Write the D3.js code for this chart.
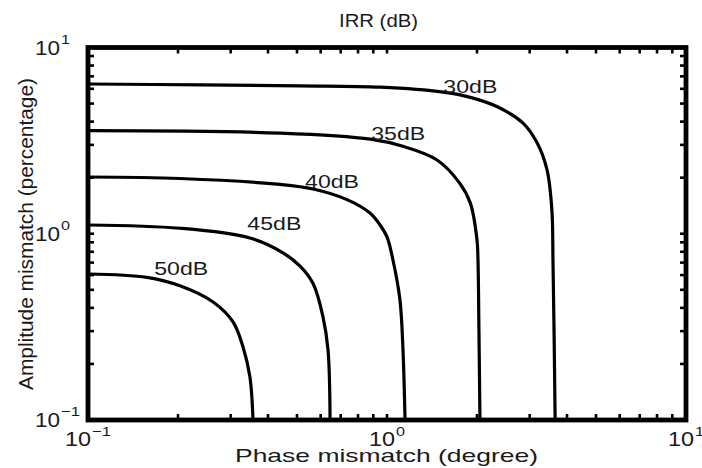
<!DOCTYPE html>
<html>
<head>
<meta charset="utf-8">
<script src="https://cdn.jsdelivr.net/npm/d3@7"></script>
<style>
  body { margin: 0; background: #fff; }
  svg { display: block; }
  text { font-family: "Liberation Sans", Arial, sans-serif; fill: #1a1a1a; }
</style>
</head>
<body>
<svg id="chart" width="702" height="468"></svg>
<script>
// IRR contour levels and the (phase [deg], amplitude [%]) points along each contour
const levels = ["30dB", "35dB", "40dB", "45dB", "50dB"];

const phase30 = [0.1, 0.24, 0.51, 0.95, 1.54, 1.9, 2.33, 2.85, 3.18, 3.43, 3.56, 3.59, 3.62, 3.65];
const amp30   = [6.37, 6.3, 6.22, 6.12, 5.76, 5.4, 4.82, 3.93, 3.07, 2.2, 1.34, 0.72, 0.3, 0.1];

const phase35 = [0.1, 0.44, 0.88, 1.13, 1.47, 1.75, 1.9, 2.0, 2.015, 2.03, 2.046];
const amp35   = [3.575, 3.47, 3.22, 2.95, 2.49, 1.87, 1.46, 0.926, 0.723, 0.304, 0.1];

const phase40 = [0.1, 0.203, 0.439, 0.566, 0.735, 0.877, 0.948, 1.0, 1.047, 1.105, 1.131, 1.149];
const amp40   = [2.017, 1.98, 1.84, 1.739, 1.525, 1.292, 1.114, 0.961, 0.723, 0.441, 0.2375, 0.1];

const phase45 = [0.1, 0.203, 0.348, 0.449, 0.512, 0.566, 0.611, 0.635, 0.645];
const amp45   = [1.114, 1.07, 0.949, 0.79, 0.67, 0.54, 0.357, 0.2375, 0.1];

const phase50 = [0.1, 0.1575, 0.203, 0.262, 0.3055, 0.33, 0.348, 0.3563];
const amp50   = [0.608, 0.583, 0.525, 0.43, 0.336, 0.2466, 0.17, 0.1];

// where each contour's label sits (phase, amplitude)
const labelPhase = [1.90, 1.09, 0.655, 0.42, 0.205];
const labelAmp   = [5.70, 3.19, 1.76, 1.047, 0.60];

// decade tick labels, written as 10^exponent
const tickExponents = [-1, 0, 1];
const chartTitle = "IRR (dB)";
const xTitle = "Phase mismatch (degree)";
const yTitle = "Amplitude mismatch (percentage)";

const contours = [
  [phase30, amp30], [phase35, amp35], [phase40, amp40], [phase45, amp45], [phase50, amp50]
].map(([p, a]) => p.map((v, i) => [v, a[i]]));

const svg = d3.select("#chart");

const x = d3.scaleLog().domain([0.1, 10]).range([88, 686]);
const y = d3.scaleLog().domain([0.1, 10]).range([420, 47.5]);

// stretched text helper: font size sets height, textLength sets width
function stretched(g, str, size, len, attrs) {
  const t = g.append("text")
    .attr("font-size", size)
    .attr("textLength", len)
    .attr("lengthAdjust", "spacingAndGlyphs")
    .text(str);
  Object.entries(attrs || {}).forEach(([k, v]) => t.attr(k, v));
  return t;
}

// contour lines
const line = d3.line()
  .x(d => x(d[0]))
  .y(d => y(d[1]))
  .curve(d3.curveCatmullRom.alpha(0.5));

svg.append("g")
  .selectAll("path")
  .data(contours)
  .join("path")
  .attr("d", line)
  .attr("fill", "none")
  .attr("stroke", "#000")
  .attr("stroke-width", 3.2)
  .attr("stroke-linejoin", "round");

// contour labels
const lg = svg.append("g");
levels.forEach((lv, i) => {
  stretched(lg, lv, 19, 54, {
    x: x(labelPhase[i]) - 27,
    y: y(labelAmp[i])
  });
});

// minor/major inward ticks on all four sides
const tickLen = 6;
const [x0, x1] = x.range();
const [y0, y1] = y.range();
const tg = svg.append("g").attr("stroke", "#000").attr("stroke-width", 2.6);
x.ticks().forEach(v => {
  tg.append("line").attr("x1", x(v)).attr("x2", x(v)).attr("y1", y0).attr("y2", y0 - tickLen);
  tg.append("line").attr("x1", x(v)).attr("x2", x(v)).attr("y1", y1).attr("y2", y1 + tickLen);
});
y.ticks().forEach(v => {
  tg.append("line").attr("y1", y(v)).attr("y2", y(v)).attr("x1", x0).attr("x2", x0 + tickLen);
  tg.append("line").attr("y1", y(v)).attr("y2", y(v)).attr("x1", x1).attr("x2", x1 - tickLen);
});

// plot frame
svg.append("rect")
  .attr("x", x0).attr("y", y1)
  .attr("width", x1 - x0).attr("height", y0 - y1)
  .attr("fill", "none")
  .attr("stroke", "#000")
  .attr("stroke-width", 4.8);

// decade tick labels
const expText = e => (e < 0 ? "\u2212" + Math.abs(e) : String(e));
const expWidth = e => (e < 0 ? 19 : 9);
const baseW = 26;
const ax = svg.append("g");
tickExponents.forEach(e => {
  const v = Math.pow(10, e);
  // x axis: centred under the tick
  const w = baseW + 1 + expWidth(e);
  const sx = x(v) - w / 2;
  stretched(ax, "10", 20, baseW, { x: sx, y: y0 + 26 });
  stretched(ax, expText(e), 13, expWidth(e), { x: sx + baseW + 1, y: y0 + 16 });
  // y axis: right-aligned against the frame
  stretched(ax, "10", 20, baseW - 1, { x: 61 - baseW, y: y(v) + 7 });
  stretched(ax, expText(e), 13, expWidth(e), { x: 61, y: y(v) - 4 });
});

// titles
stretched(svg, chartTitle, 18, 79, { x: 339, y: 27 });
stretched(svg, xTitle, 19, 303, { x: 235, y: 462 });
stretched(svg, yTitle, 21, 312, {
  "text-anchor": "middle",
  transform: "translate(33,234) rotate(-90)"
});
</script>
</body>
</html>
